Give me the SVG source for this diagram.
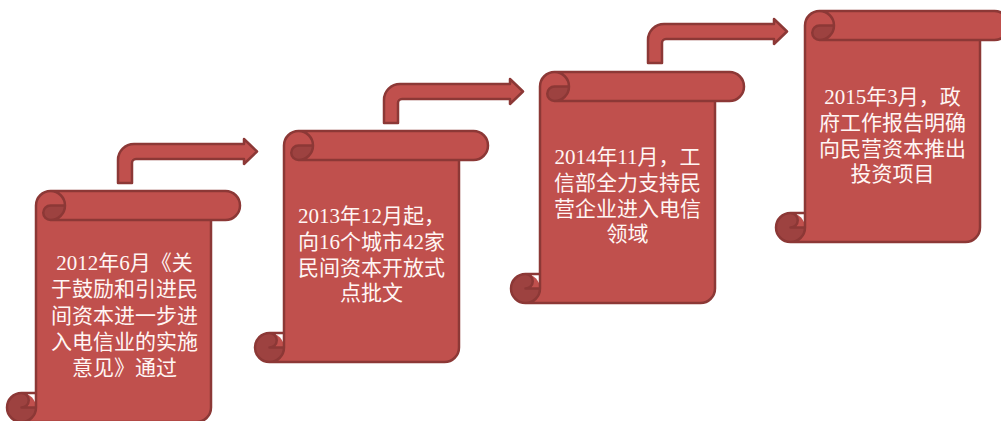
<svg xmlns="http://www.w3.org/2000/svg" xmlns:xlink="http://www.w3.org/1999/xlink" width="1001" height="421" viewBox="0 0 1001 421">
<style>
.fill{fill:#C0504D}
.dark{fill:#9D4240}
.line{fill:none;stroke:#8C3836;stroke-width:2.5;stroke-linejoin:round}
.arrow{fill:#C0504D;stroke:#8C3836;stroke-width:2.5;stroke-linejoin:round}
.t{font-family:"Liberation Serif","Noto Sans CJK SC",serif;font-size:21px;fill:#FFF6F4;text-anchor:middle}
</style>
<defs>
<g id="scroll">
<path class="fill" d="M14.5,231 A14.5,14.5 0 0 0 29,216.5 L29,14.5 A14.5,14.5 0 0 1 43.5,0 L218.5,0 A14.5,14.5 0 0 1 218.5,29 L204,29 L204,216.5 A14.5,14.5 0 0 1 189.5,231 Z"/>
<path class="fill" d="M14.5,216.5 L14.5,202 A14.5,14.5 0 0 1 29,216.5 Z"/>
<path class="dark" d="M58,14.5 A14.5,14.5 0 0 1 43.5,29 A7.25,7.25 0 0 1 43.5,14.5 Z M29,216.5 A14.5,14.5 0 1 1 14.5,202 A7.25,7.25 0 0 1 14.5,216.5 Z"/>
<path class="line" d="M29,202 L29,14.5 A14.5,14.5 0 0 1 43.5,0 L218.5,0 A14.5,14.5 0 0 1 218.5,29 L204,29 L204,216.5 A14.5,14.5 0 0 1 189.5,231 L14.5,231 A14.5,14.5 0 0 1 14.5,202 Z M43.5,0 A14.5,14.5 0 0 1 43.5,29 A7.25,7.25 0 0 1 43.5,14.5 L58,14.5 M204,29 L43.5,29 M14.5,202 A7.25,7.25 0 0 1 14.5,216.5 L29,216.5 M14.5,231 A14.5,14.5 0 0 0 29,216.5 L29,202"/>
</g>
<path id="arr" d="M118,183 L118,160 A16,16 0 0 1 134,144 L244,144 L244,139 L257,151.5 L244,164 L244,159 L136,159 A4,4 0 0 0 132,163 L132,183 Z"/>
</defs>
<g id="node1">
<use href="#scroll" xlink:href="#scroll" transform="translate(7,191)"/>
<text class="t"><tspan x="124.5" y="270">2012年6月《关</tspan><tspan x="124.5" y="296">于鼓励和引进民</tspan><tspan x="124.5" y="322.5">间资本进一步进</tspan><tspan x="124.5" y="348.5">入电信业的实施</tspan><tspan x="124.5" y="375">意见》通过</tspan></text>
</g>
<g id="node2">
<use href="#scroll" xlink:href="#scroll" transform="translate(255,131)"/>
<text class="t"><tspan x="371.5" y="223">2013年12月起，</tspan><tspan x="371.5" y="249">向16个城市42家</tspan><tspan x="371.5" y="274.5">民间资本开放式</tspan><tspan x="371.5" y="300">点批文</tspan></text>
</g>
<g id="node3">
<use href="#scroll" xlink:href="#scroll" transform="translate(511,72)"/>
<text class="t"><tspan x="627.5" y="164">2014年11月，工</tspan><tspan x="627.5" y="190">信部全力支持民</tspan><tspan x="627.5" y="215.5">营企业进入电信</tspan><tspan x="627.5" y="241">领域</tspan></text>
</g>
<g id="node4">
<use href="#scroll" xlink:href="#scroll" transform="translate(776,11)"/>
<text class="t"><tspan x="892.5" y="104">2015年3月，政</tspan><tspan x="892.5" y="130">府工作报告明确</tspan><tspan x="892.5" y="155.5">向民营资本推出</tspan><tspan x="892.5" y="181">投资项目</tspan></text>
</g>
<g id="connectors">
<use href="#arr" xlink:href="#arr" class="arrow"/>
<use href="#arr" xlink:href="#arr" class="arrow" transform="translate(266,-60)"/>
<use href="#arr" xlink:href="#arr" class="arrow" transform="translate(530,-120)"/>
</g>
</svg>
